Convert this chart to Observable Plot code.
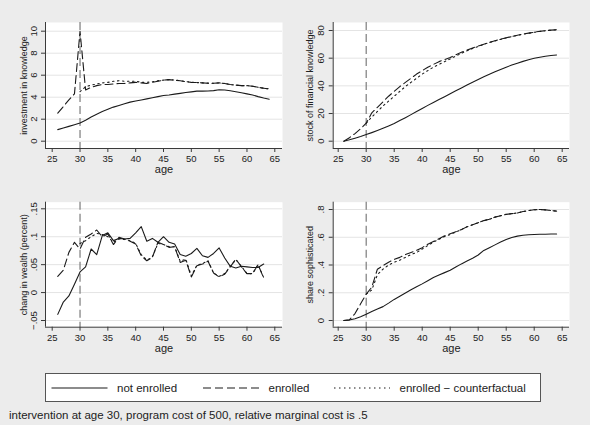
<!DOCTYPE html>
<html>
<head>
<meta charset="utf-8">
<script src="https://cdn.jsdelivr.net/npm/d3@7"></script>
<script src="https://cdn.jsdelivr.net/npm/@observablehq/plot@0.6"></script>
<style>
  html, body { margin: 0; padding: 0; background: #ececec; }
  #fig { position: relative; width: 590px; height: 425px; background: #ececec; overflow: hidden;
         font-family: "Liberation Sans", Arial, Helvetica, sans-serif; color: #222; }
  .panel { position: absolute; }
  #legend { position: absolute; left: 45px; top: 373px; }
  #caption { position: absolute; left: 9px; top: 407px; font-size: 11.5px; line-height: 16px; white-space: nowrap; }
</style>
</head>
<body>
<div id="fig">
  <div id="legend"></div>
  <div id="caption">intervention at age 30, program cost of 500, relative marginal cost is .5</div>
</div>
<script>
// ---- data -------------------------------------------------------------
const ages = [26, 27, 28, 29, 30, 31, 32, 33, 34, 35, 36, 37, 38, 39, 40, 41, 42, 43, 44, 45,
              46, 47, 48, 49, 50, 51, 52, 53, 54, 55, 56, 57, 58, 59, 60, 61, 62, 63, 64];
const seriesNames = ["not enrolled", "enrolled", "enrolled − counterfactual"];
const interventionAge = 30;
const xTicks = [25, 30, 35, 40, 45, 50, 55, 60, 65];

// investment in knowledge
const investNotEnrolled = [1.05, 1.2, 1.35, 1.5, 1.65, 1.9, 2.2, 2.45, 2.7, 2.9, 3.1, 3.25, 3.4, 3.55, 3.65, 3.75, 3.85, 3.95, 4.05, 4.15,
                           4.2, 4.28, 4.35, 4.42, 4.48, 4.55, 4.55, 4.57, 4.6, 4.67, 4.65, 4.58, 4.5, 4.4, 4.3, 4.2, 4.05, 3.92, 3.82];
const investEnrolled = [2.55, 3.15, 3.75, 4.3, 10.0, 4.65, 4.9, 5.05, 5.15, 5.15, 5.2, 5.25, 5.25, 5.3, 5.35, 5.3, 5.25, 5.35, 5.45, 5.55,
                        5.6, 5.55, 5.5, 5.4, 5.35, 5.33, 5.3, 5.27, 5.27, 5.3, 5.25, 5.15, 5.1, 5.05, 5.05, 5.0, 4.9, 4.82, 4.75];
const investCounterfactual = [null, null, null, null, 4.5, 4.95, 5.1, 5.2, 5.3, 5.35, 5.45, 5.5, 5.45, 5.45, 5.45, 5.35, 5.35, 5.4, 5.5, 5.55,
                              5.6, 5.55, 5.5, 5.42, 5.36, 5.33, 5.3, 5.28, 5.27, 5.3, 5.25, 5.15, 5.1, 5.05, 5.05, 5.0, 4.9, 4.82, 4.75];
const investTicks = [0, 2, 4, 6, 8, 10];
const investTickLabels = ["0", "2", "4", "6", "8", "10"];

// stock of financial knowledge
const stockNotEnrolled = [0, 1, 2.2, 3.4, 4.8, 6.2, 7.7, 9.3, 11, 12.8, 14.9, 17, 19.2, 21.4, 23.7, 25.9, 28, 30.1, 32.2, 34.3,
                          36.4, 38.5, 40.6, 42.6, 44.6, 46.5, 48.4, 50.2, 51.9, 53.5, 55, 56.4, 57.7, 58.9, 59.9, 60.7, 61.4, 61.9, 62.3];
const stockEnrolled = [0, 2.5, 5.5, 9, 13, 20.5, 24.5, 28.5, 32.5, 36, 39.5, 42.5, 45.5, 48.5, 51, 53.5, 55.5, 57.5, 59, 60.5,
                       62.5, 64.2, 65.8, 67.3, 68.8, 70.1, 71.4, 72.6, 73.7, 74.7, 75.7, 76.6, 77.4, 78.1, 78.8, 79.4, 79.9, 80.3, 80.6];
const stockCounterfactual = [null, null, null, null, 13, 17.5, 21.5, 25.5, 29, 32.5, 36, 39.5, 42.5, 45.5, 48.5, 51, 53.5, 55.5, 57.5, 59.5,
                             61.5, 63.5, 65.3, 67, 68.5, 70, 71.3, 72.5, 73.6, 74.6, 75.6, 76.5, 77.3, 78, 78.7, 79.3, 79.8, 80.2, 80.5];
const stockTicks = [0, 20, 40, 60, 80];
const stockTickLabels = ["0", "20", "40", "60", "80"];

// change in wealth (ages 26-63)
const wealthNotEnrolled = [-0.039, -0.017, -0.006, 0.015, 0.037, 0.046, 0.078, 0.068, 0.102, 0.107, 0.093, 0.097, 0.096, 0.097, 0.107, 0.118, 0.092, 0.097, 0.09, 0.1,
                           0.09, 0.087, 0.068, 0.065, 0.07, 0.079, 0.066, 0.063, 0.07, 0.08, 0.062, 0.047, 0.044, 0.047, 0.046, 0.045, 0.045, 0.051];
const wealthEnrolled = [0.029, 0.04, 0.072, 0.09, 0.078, 0.099, 0.105, 0.112, 0.1, 0.105, 0.086, 0.099, 0.096, 0.092, 0.087, 0.066, 0.057, 0.063, 0.09, 0.086,
                        0.081, 0.082, 0.054, 0.058, 0.028, 0.048, 0.051, 0.056, 0.035, 0.028, 0.033, 0.046, 0.06, 0.046, 0.034, 0.034, 0.05, 0.026];
const wealthCounterfactual = [null, null, null, null, 0.088, 0.093, 0.1, 0.106, 0.104, 0.1, 0.09, 0.096, 0.095, 0.093, 0.088, 0.068, 0.058, 0.064, 0.088, 0.086,
                              0.082, 0.082, 0.056, 0.06, 0.03, 0.049, 0.052, 0.057, 0.035, 0.029, 0.034, 0.047, 0.059, 0.047, 0.034, 0.034, 0.05, 0.027];
const wealthTicks = [-0.05, 0, 0.05, 0.1, 0.15];
const wealthTickLabels = ["−.05", "0", ".05", ".1", ".15"];

// share sophisticated
const shareNotEnrolled = [0, 0.003, 0.013, 0.027, 0.045, 0.065, 0.083, 0.1, 0.125, 0.152, 0.175, 0.198, 0.222, 0.243, 0.264, 0.287, 0.31, 0.328, 0.345, 0.362,
                          0.385, 0.408, 0.428, 0.448, 0.472, 0.505, 0.525, 0.545, 0.565, 0.584, 0.598, 0.608, 0.614, 0.618, 0.62, 0.622, 0.622, 0.623, 0.623];
const shareEnrolled = [0, 0.005, 0.05, 0.12, 0.19, 0.24, 0.37, 0.395, 0.42, 0.44, 0.455, 0.475, 0.49, 0.505, 0.525, 0.55, 0.57, 0.59, 0.61, 0.625,
                       0.64, 0.655, 0.675, 0.69, 0.705, 0.72, 0.73, 0.745, 0.755, 0.765, 0.77, 0.775, 0.785, 0.792, 0.798, 0.8, 0.797, 0.793, 0.788];
const shareCounterfactual = [null, null, null, null, 0.19, 0.22, 0.33, 0.37, 0.4, 0.42, 0.435, 0.455, 0.475, 0.49, 0.515, 0.54, 0.565, 0.585, 0.605, 0.62,
                             0.638, 0.655, 0.675, 0.69, 0.705, 0.72, 0.73, 0.745, 0.755, 0.765, 0.77, 0.775, 0.785, 0.792, 0.798, 0.8, 0.797, 0.793, 0.788];
const shareTicks = [0, 0.2, 0.4, 0.6, 0.8];
const shareTickLabels = ["0", ".2", ".4", ".6", ".8"];

// ---- styling ----------------------------------------------------------
const lineDashes = [null, "8,4", "1.5,3.5"];
const ink = "#1a1a1a";
const axisColor = "#3a3a3a";
const gridColor = "#e4e4e4";
const fontFamily = '"Liberation Sans", Arial, Helvetica, sans-serif';

// extend a tick range by a few pixels of padding at each end of the frame
function padded(lo, hi, padLo, padHi, span) {
  const k = (hi - lo) / (span - padLo - padHi);
  return [lo - padLo * k, hi + padHi * k];
}

const panels = [
  {series: [investNotEnrolled, investEnrolled, investCounterfactual], ticks: investTicks, tickLabels: investTickLabels,
   title: "investment in knowledge", left: 0, top: 0, width: 295, height: 180,
   margin: [22, 13, 32, 45], xPad: [6.7, 7.7], yPad: [7.3, 8.7], titleOffset: 21.7},
  {series: [stockNotEnrolled, stockEnrolled, stockCounterfactual], ticks: stockTicks, tickLabels: stockTickLabels,
   title: "stock of financial knowledge", left: 295, top: 0, width: 295, height: 180,
   margin: [22, 21, 32, 37.7], xPad: [5, 7.3], yPad: [7.3, 8], titleOffset: 22.7},
  {series: [wealthNotEnrolled, wealthEnrolled, wealthCounterfactual], ticks: wealthTicks, tickLabels: wealthTickLabels,
   title: "chang in wealth (percent)", left: 0, top: 180, width: 295, height: 185,
   margin: [21.7, 13, 38.3, 45], xPad: [6.7, 7.7], yPad: [6.7, 6.6], titleOffset: 21.7},
  {series: [shareNotEnrolled, shareEnrolled, shareCounterfactual], ticks: shareTicks, tickLabels: shareTickLabels,
   title: "share sophisticated", left: 295, top: 180, width: 295, height: 185,
   margin: [21.7, 21, 38.3, 37.7], xPad: [5, 7.3], yPad: [6.7, 7.3], titleOffset: 22.7}
];

const fig = document.getElementById("fig");

for (const p of panels) {
  const [mt, mr, mb, ml] = p.margin;
  const frameW = p.width - ml - mr;
  const frameH = p.height - mt - mb;
  const xDomain = padded(xTicks[0], xTicks[xTicks.length - 1], p.xPad[0], p.xPad[1], frameW);
  const yDomain = padded(p.ticks[0], p.ticks[p.ticks.length - 1], p.yPad[0], p.yPad[1], frameH);
  const labelOf = new Map(p.ticks.map((t, i) => [t, p.tickLabels[i]]));

  const lines = seriesNames.map((name, i) => {
    const rows = p.series[i]
      .map((v, j) => ({age: ages[j], value: v}))
      .filter(d => d.value != null);
    return Plot.line(rows, {x: "age", y: "value", stroke: ink, strokeWidth: 1.1, strokeDasharray: lineDashes[i]});
  });

  const chart = Plot.plot({
    width: p.width,
    height: p.height,
    marginTop: mt, marginRight: mr, marginBottom: mb, marginLeft: ml,
    style: {background: "transparent", fontFamily, color: "#222", overflow: "visible"},
    x: {domain: xDomain},
    y: {domain: yDomain},
    marks: [
      Plot.frame({fill: "white", stroke: "none"}),
      Plot.ruleY(p.ticks, {stroke: gridColor, strokeWidth: 1}),
      Plot.ruleX([interventionAge], {stroke: "#7c7c7c", strokeWidth: 1.2, strokeDasharray: "8,4"}),
      ...lines,
      Plot.ruleX([xDomain[0]], {stroke: axisColor, strokeWidth: 1}),
      Plot.ruleY([yDomain[0]], {stroke: axisColor, strokeWidth: 1}),
      Plot.axisX({ticks: xTicks, tickSize: 4, tickPadding: 3, label: null, fontSize: 9.5, stroke: axisColor, fill: "#222"}),
      Plot.axisY({ticks: p.ticks, tickFormat: d => labelOf.get(d), tickRotate: -90, tickSize: 4, tickPadding: 5,
                  label: null, fontSize: 9.5, stroke: axisColor, fill: "#222"}),
      Plot.text([p.title], {text: d => d, frameAnchor: "left", textAnchor: "middle", lineAnchor: "middle",
                            rotate: -90, dx: -p.titleOffset, fontSize: 9, fill: "#222"}),
      Plot.text(["age"], {text: d => d, frameAnchor: "bottom", textAnchor: "middle", lineAnchor: "middle",
                          dy: 21.3, fontSize: 11, fill: "#222"})
    ]
  });
  chart.classList.add("panel");
  chart.style.left = p.left + "px";
  chart.style.top = p.top + "px";
  fig.appendChild(chart);
}

// ---- legend -----------------------------------------------------------
const legendW = 496, legendH = 29;
const keyX = [6.5, 158, 289];
const keyLen = 56;
const legend = d3.select("#legend").append("svg")
  .attr("width", legendW).attr("height", legendH)
  .style("display", "block")
  .style("font-family", fontFamily);
legend.append("rect")
  .attr("x", 0.5).attr("y", 0.5).attr("width", legendW - 1).attr("height", legendH - 1)
  .attr("fill", "white").attr("stroke", "#555");
seriesNames.forEach((name, i) => {
  const g = legend.append("g").attr("transform", `translate(${keyX[i]},${legendH / 2 + 0.5})`);
  g.append("line").attr("x1", 0).attr("x2", keyLen).attr("y1", 0).attr("y2", 0)
    .attr("stroke", ink).attr("stroke-width", 1.1)
    .attr("stroke-dasharray", lineDashes[i]);
  g.append("text").attr("x", keyLen + 9.5).attr("y", 0).attr("dy", "0.35em")
    .attr("font-size", 11.5).attr("fill", "#222").text(name);
});
</script>
</body>
</html>
